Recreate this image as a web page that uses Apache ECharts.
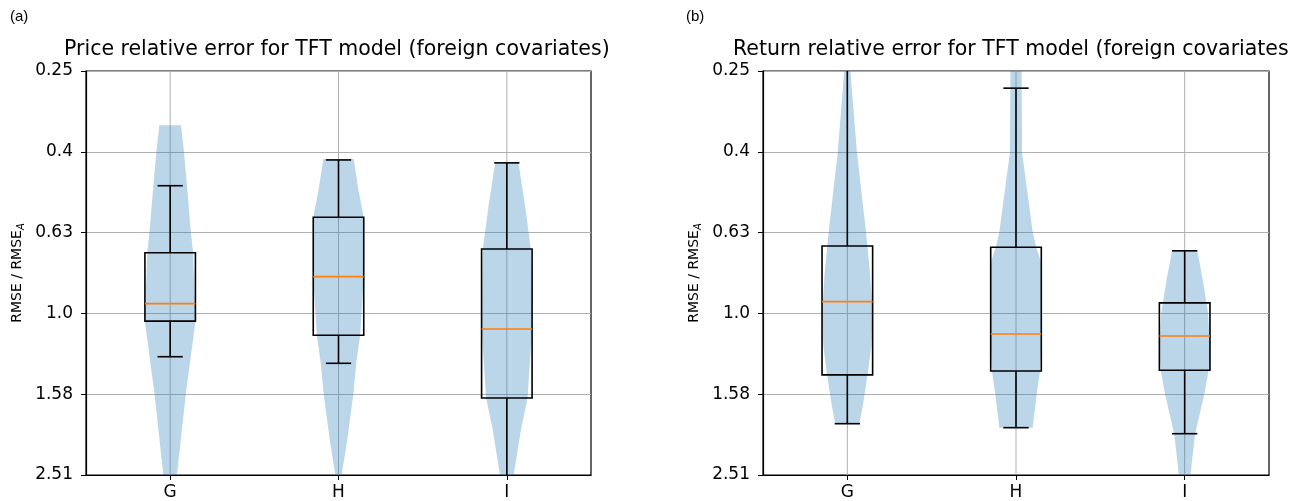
<!DOCTYPE html>
<html><head><meta charset="utf-8">
<script src="https://cdn.jsdelivr.net/npm/echarts@6/dist/echarts.min.js"></script>
<style>html,body{margin:0;padding:0;background:#fff}#c{width:1308px;height:501px}</style>
</head><body><div id="c"></div>
<script>
const categories = ['G', 'H', 'I'];
const yTickLabels = ['0.25', '0.4', '0.63', '1.0', '1.58', '2.51'];
const panelLabels = ['(a)', '(b)'];
const panelTitles = ['Price relative error for TFT model (foreign covariates)', 'Return relative error for TFT model (foreign covariates)'];
const yAxisName = 'RMSE / RMSE{sub|A}';

const priceWhiskerLow = [0.483, 0.417, 0.424];
const priceQ1 = [0.708, 0.578, 0.693];
const priceMedian = [0.946, 0.811, 1.093];
const priceQ3 = [1.045, 1.133, 1.62];
const priceWhiskerHigh = [1.28, 1.329, 2.9];

const returnWhiskerLow = [0.2, 0.277, 0.70];
const returnQ1 = [0.681, 0.686, 0.942];
const returnMedian = [0.935, 1.125, 1.137];
const returnQ3 = [1.42, 1.389, 1.383];
const returnWhiskerHigh = [1.875, 1.918, 1.985];

// violin outlines: [value, relative density]
const priceViolinG = [[0.342,0.43],[0.40,0.55],[0.52,0.71],[0.63,0.82],[0.70,0.90],[0.87,0.96],[1.05,1.0],[1.58,0.62],[2.51,0.27],[2.75,0.18]];
const priceViolinH = [[0.415,0.6],[0.495,0.79],[0.578,1.0],[0.81,1.0],[1.13,0.86],[1.33,0.7],[1.58,0.59],[2.07,0.34],[2.5,0.13],[2.6,0.05]];
const priceViolinI = [[0.424,0.46],[0.54,0.72],[0.693,0.95],[1.09,1.0],[1.62,0.82],[1.94,0.56],[2.49,0.28],[2.8,0.15]];
const returnViolinG = [[0.2,0.05],[0.25,0.12],[0.4,0.38],[0.63,0.74],[0.8,0.9],[1.0,1.0],[1.2,0.95],[1.42,0.8],[1.68,0.62],[1.875,0.48]];
const returnViolinH = [[0.2,0.15],[0.25,0.22],[0.4,0.24],[0.63,0.66],[0.686,0.8],[0.75,1.0],[1.2,1.0],[1.39,0.95],[1.58,0.82],[1.918,0.66]];
const returnViolinI = [[0.70,0.5],[0.83,0.72],[1.0,0.93],[1.25,1.0],[1.38,0.95],[1.58,0.78],[1.99,0.41],[2.51,0.23],[2.8,0.15]];

const LOG_STEP = 0.2;
const toAxis = v => Math.log10(v) / LOG_STEP;

const panels = [
  {lo: priceWhiskerLow, q1: priceQ1, med: priceMedian, q3: priceQ3, hi: priceWhiskerHigh, violins: [priceViolinG, priceViolinH, priceViolinI]},
  {lo: returnWhiskerLow, q1: returnQ1, med: returnMedian, q3: returnQ3, hi: returnWhiskerHigh, violins: [returnViolinG, returnViolinH, returnViolinI]}
];

const FONT = 'DejaVu Sans';
const gridBoxes = [
  {left: 86, top: 71, width: 505, height: 404},
  {left: 763, top: 71, width: 506, height: 404}
];

const chart = echarts.init(document.getElementById('c'), null, {renderer: 'canvas'});

const grids = gridBoxes.map(g => Object.assign({show: true, borderColor: '#000', borderWidth: 1.2, backgroundColor: 'rgba(0,0,0,0)'}, g));

const xAxes = gridBoxes.map((g, gi) => ({
  type: 'category', gridIndex: gi, data: categories, boundaryGap: true,
  axisLine: {show: true, onZero: false, lineStyle: {color: '#000', width: 1.2}},
  axisTick: {show: true, alignWithLabel: true, length: 5, lineStyle: {color: '#000', width: 1}},
  axisLabel: {color: '#000', fontFamily: FONT, fontSize: 17, margin: 9},
  splitLine: {show: false}
}));

const yAxes = gridBoxes.map((g, gi) => ({
  type: 'value', gridIndex: gi, inverse: true, min: -3, max: 2, interval: 1,
  name: yAxisName, nameLocation: 'middle', nameRotate: 90, nameGap: 60,
  nameTextStyle: {color: '#000', fontFamily: FONT, fontSize: 14,
    rich: {sub: {fontFamily: FONT, fontSize: 10, fontStyle: 'italic', padding: [7, 0, 0, 0]}}},
  axisLine: {show: true, onZero: false, lineStyle: {color: '#000', width: 1.2}},
  axisTick: {show: true, length: 5, lineStyle: {color: '#000', width: 1}},
  axisLabel: {color: '#000', fontFamily: FONT, fontSize: 17, margin: 13,
    formatter: v => yTickLabels[Math.round(v + 3)]},
  splitLine: {show: true, lineStyle: {color: '#b0b0b0', width: 1}}
}));

const series = [];
panels.forEach((p, gi) => {
  series.push({
    type: 'custom', xAxisIndex: gi, yAxisIndex: gi, z: 1, silent: true, clip: true,
    data: categories.map((c, i) => [i]),
    encode: {x: 0},
    renderItem: (params, api) => {
      const i = api.value(0);
      const a = api.coord([i, -3]), b = api.coord([i, 2]);
      return {type: 'line', shape: {x1: a[0], y1: a[1], x2: b[0], y2: b[1]}, style: {stroke: '#b0b0b0', lineWidth: 1}};
    }
  });
  series.push({
    type: 'custom', xAxisIndex: gi, yAxisIndex: gi, z: 2, silent: true, clip: true,
    data: categories.map((c, i) => [i]),
    encode: {x: 0},
    renderItem: (params, api) => {
      const i = api.value(0);
      const prof = p.violins[i];
      const band = api.size([1, 0])[0];
      const maxHalf = band * 0.15;
      const left = [], right = [];
      prof.forEach(([v, d]) => {
        const c = api.coord([i, toAxis(v)]);
        left.push([c[0] - d * maxHalf, c[1]]);
        right.push([c[0] + d * maxHalf, c[1]]);
      });
      const pts = left.concat(right.reverse());
      return {type: 'polygon', shape: {points: pts}, style: {fill: 'rgba(31,119,180,0.3)', stroke: null}};
    }
  });
  series.push({
    type: 'custom', xAxisIndex: gi, yAxisIndex: gi, z: 3, silent: true, clip: true,
    data: categories.map((c, i) => [i, toAxis(p.lo[i]), toAxis(p.q1[i]), toAxis(p.med[i]), toAxis(p.q3[i]), toAxis(p.hi[i])]),
    encode: {x: 0, y: [1, 2, 3, 4, 5]},
    renderItem: (params, api) => {
      const i = api.value(0);
      const band = api.size([1, 0])[0];
      const half = band * 0.15, cap = band * 0.075;
      const pLo = api.coord([i, api.value(1)]);
      const pQ1 = api.coord([i, api.value(2)]);
      const pMed = api.coord([i, api.value(3)]);
      const pQ3 = api.coord([i, api.value(4)]);
      const pHi = api.coord([i, api.value(5)]);
      const x = pQ1[0];
      const st = {stroke: '#000', lineWidth: 1.6, fill: null};
      return {type: 'group', children: [
        {type: 'line', shape: {x1: x, y1: pQ1[1], x2: x, y2: pLo[1]}, style: st},
        {type: 'line', shape: {x1: x - cap, y1: pLo[1], x2: x + cap, y2: pLo[1]}, style: st},
        {type: 'line', shape: {x1: x, y1: pQ3[1], x2: x, y2: pHi[1]}, style: st},
        {type: 'line', shape: {x1: x - cap, y1: pHi[1], x2: x + cap, y2: pHi[1]}, style: st},
        {type: 'rect', shape: {x: x - half, y: Math.min(pQ1[1], pQ3[1]), width: 2 * half, height: Math.abs(pQ3[1] - pQ1[1])}, style: {stroke: '#000', lineWidth: 1.6, fill: null}},
        {type: 'line', shape: {x1: x - half, y1: pMed[1], x2: x + half, y2: pMed[1]}, style: {stroke: '#ff7f0e', lineWidth: 1.6}}
      ]};
    }
  });
});

const titles = [
  {text: panelLabels[0], left: 10, top: 9, padding: 0, textStyle: {fontFamily: 'Liberation Sans', fontSize: 15, fontWeight: 'normal', color: '#000'}},
  {text: panelLabels[1], left: 686, top: 9, padding: 0, textStyle: {fontFamily: 'Liberation Sans', fontSize: 15, fontWeight: 'normal', color: '#000'}},
  {text: panelTitles[0], left: 64, top: 39, padding: 0, textStyle: {fontFamily: FONT, fontSize: 20.5, fontWeight: 'normal', color: '#000', width: 560, overflow: 'truncate', ellipsis: ''}},
  {text: panelTitles[1], left: 733, top: 39, padding: 0, textStyle: {fontFamily: FONT, fontSize: 20.5, fontWeight: 'normal', color: '#000', width: 560, overflow: 'truncate', ellipsis: ''}}
];

chart.setOption({
  animation: false,
  backgroundColor: '#fff',
  title: titles,
  grid: grids,
  xAxis: xAxes,
  yAxis: yAxes,
  series: series
});
</script></body></html>
